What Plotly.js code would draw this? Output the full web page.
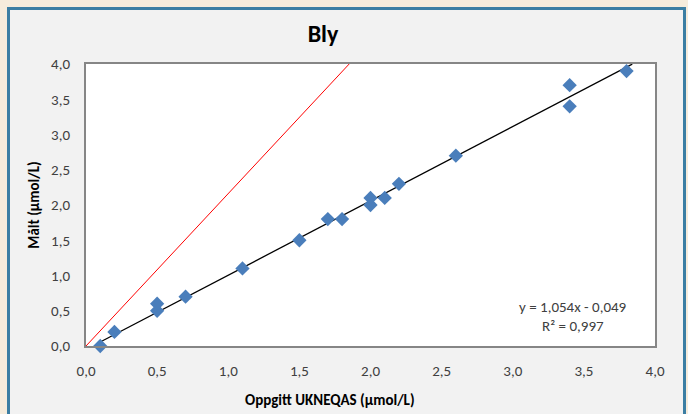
<!DOCTYPE html>
<html>
<head>
<meta charset="utf-8">
<script src="https://cdn.plot.ly/plotly-3.0.1.min.js"></script>
<style>
  html, body { margin: 0; padding: 0; background: #f6ecdc; width: 688px; height: 414px; overflow: hidden; }
  #frame { position: absolute; left: 7px; top: 7px; width: 673px; height: 420px; border: 3px solid #3c7ea3; background: #f2f2f2; }
  #chart { position: absolute; left: 0; top: 0; width: 688px; height: 414px; }
</style>
</head>
<body>
<div id="frame"></div>
<div id="chart"></div>
<script>
// Measured points (x: Oppgitt UKNEQAS, y: Målt)
const xValues = [0.1, 0.2, 0.5, 0.5, 0.7, 1.1, 1.5, 1.7, 1.8, 2.0, 2.0, 2.1, 2.2, 2.6, 3.4, 3.4, 3.8];
const yValues = [0.0, 0.2, 0.5, 0.6, 0.7, 1.1, 1.5, 1.8, 1.8, 2.0, 2.1, 2.1, 2.3, 2.7, 3.4, 3.7, 3.9];
// Trendline y = 1,054x - 0,049
const trendSlope = 1.054;
const trendIntercept = -0.049;
const trendX = [0.1, 3.84];
// Red reference line
const refX = [0, 1.85];
const refY = [0, 4.0];
const xTicks = [0, 0.5, 1, 1.5, 2, 2.5, 3, 3.5, 4];
const yTicks = [0, 0.5, 1, 1.5, 2, 2.5, 3, 3.5, 4];

const FONT = "Carlito, Calibri, 'Liberation Sans Narrow', 'Open Sans', sans-serif";

const traces = [
  {
    x: refX, y: refY, mode: 'lines', type: 'scatter',
    line: {color: '#ff0000', width: 1}, hoverinfo: 'skip', showlegend: false
  },
  {
    x: trendX, y: trendX.map(v => trendSlope * v + trendIntercept), mode: 'lines', type: 'scatter',
    line: {color: '#000000', width: 1.3}, hoverinfo: 'skip', showlegend: false
  },
  {
    x: xValues, y: yValues, mode: 'markers', type: 'scatter', cliponaxis: false,
    marker: {symbol: 'diamond', color: '#4a7ebb', size: 11, line: {width: 0}},
    showlegend: false
  }
];

const layout = {
  width: 688, height: 414,
  margin: {l: 86, r: 33, t: 64, b: 68},
  paper_bgcolor: 'rgba(0,0,0,0)',
  plot_bgcolor: '#ffffff',
  separators: ',.',
  font: {family: FONT, size: 15, color: '#404040'},
  title: {
    text: '<b>Bly</b>', x: 323 / 688, xanchor: 'center', xref: 'container',
    y: 0.918, yanchor: 'middle', yref: 'container',
    font: {family: FONT, size: 24, color: '#000000'}
  },
  xaxis: {
    range: [0, 4], tickvals: xTicks, tickformat: '.1f',
    showgrid: false, zeroline: false,
    showline: true, mirror: true, linecolor: '#868686', linewidth: 2,
    ticks: '', ticklabelstandoff: 10, tickfont: {family: FONT, size: 15, color: '#404040'}
  },
  yaxis: {
    range: [0, 4], tickvals: yTicks, tickformat: '.1f',
    showgrid: false, zeroline: false,
    showline: true, mirror: true, linecolor: '#868686', linewidth: 2,
    ticks: '', ticklabelstandoff: 11, tickfont: {family: FONT, size: 15, color: '#404040'},
    title: {text: '<b>Målt (µmol/L)</b>', standoff: 8, font: {family: FONT, size: 15, color: '#000000'}}
  },
  annotations: [
    {
      text: '<b>Oppgitt UKNEQAS (µmol/L)</b>', xref: 'paper', yref: 'paper',
      x: (330 - 86) / 569, y: -(400 - 346) / 282, xanchor: 'center', yanchor: 'middle',
      showarrow: false, font: {family: FONT, size: 15, color: '#000000'}
    },
    {
      text: 'y = 1,054x - 0,049', xref: 'paper', yref: 'paper',
      x: (573 - 86) / 569, y: (346 - 307) / 282, xanchor: 'center', yanchor: 'middle',
      showarrow: false, font: {family: FONT, size: 15, color: '#404040'}
    },
    {
      text: 'R² = 0,997', xref: 'paper', yref: 'paper',
      x: (573 - 86) / 569, y: (346 - 326) / 282, xanchor: 'center', yanchor: 'middle',
      showarrow: false, font: {family: FONT, size: 15, color: '#404040'}
    }
  ]
};

Plotly.newPlot('chart', traces, layout, {staticPlot: true, displayModeBar: false});
</script>
</body>
</html>
